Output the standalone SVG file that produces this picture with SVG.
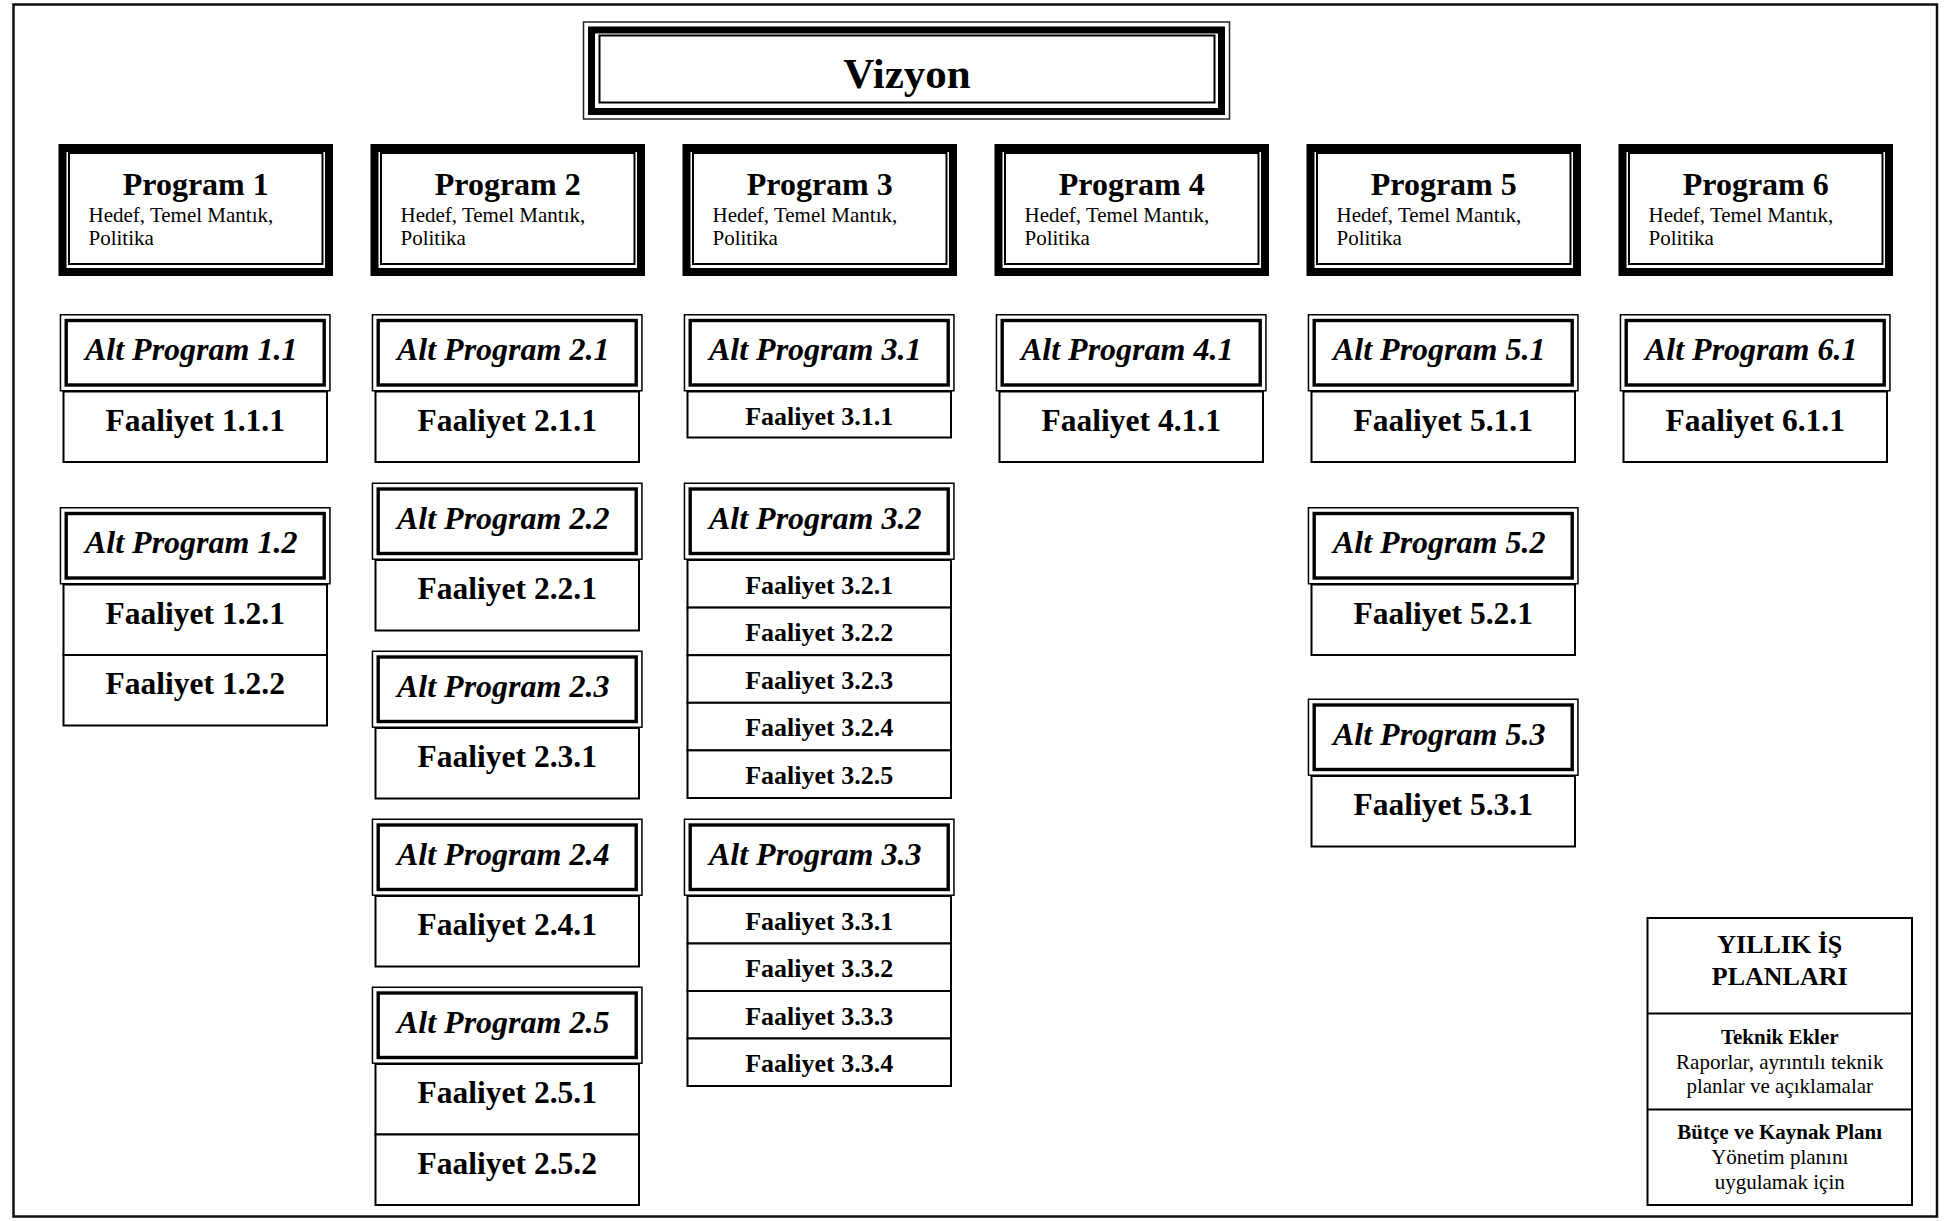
<svg xmlns="http://www.w3.org/2000/svg" width="1948" height="1221" viewBox="0 0 1948 1221">
<style>
.frame{fill:none;stroke:#111;stroke-width:2.5}
.vo{fill:#fff;stroke:#222;stroke-width:1.5}
.vb{fill:none;stroke:#000;stroke-width:7}
.vt{fill:none;stroke:#000;stroke-width:2}
.pband{fill:#fff;stroke:#000;stroke-width:8}
.pthin{fill:none;stroke:#000;stroke-width:2}
.aouter{fill:#fff;stroke:#000;stroke-width:1.5}
.athick{fill:none;stroke:#000;stroke-width:3.4}
.fbox{fill:#fff;stroke:#000;stroke-width:2}
.ybox{fill:#fff;stroke:#000;stroke-width:2}
.ln{stroke:#000;stroke-width:2}
text{font-family:"Liberation Serif","Times New Roman",serif;fill:#000}
.viz{font-weight:bold;font-size:43px;text-anchor:middle}
.title{font-weight:bold;font-size:32px;text-anchor:middle}
.sub{font-size:21px}
.alt{font-weight:bold;font-style:italic;font-size:32px;text-anchor:middle}
.fa{font-weight:bold;font-size:31.5px;text-anchor:middle}
.fs{font-weight:bold;font-size:26px;text-anchor:middle}
.yh{font-weight:bold;font-size:26px;text-anchor:middle}
.yb{font-weight:bold;font-size:21px;text-anchor:middle}
.yr{font-size:21px;text-anchor:middle}
</style>
<rect class="frame" x="13.5" y="4.5" width="1923.5" height="1212"/>
<g id="connectors"></g>

<g id="vizyon">
<rect class="vo" x="583.5" y="22" width="646" height="97"/>
<rect class="vb" x="591.5" y="30" width="630" height="81.5"/>
<rect class="vt" x="599.5" y="35.5" width="615" height="67"/>
<text class="viz" x="907" y="88">Vizyon</text>
</g>

<!-- Programs -->
<g id="program1">
<rect class="pband" x="62.5" y="148" width="266.5" height="124"/>
<rect class="pthin" x="69" y="153" width="253.5" height="111"/>
<text class="title" x="195.75" y="195">Program 1</text>
<text class="sub" x="88.5" y="221.5">Hedef, Temel Mantık,</text>
<text class="sub" x="88.5" y="245">Politika</text>
</g>
<g id="program2">
<rect class="pband" x="374.5" y="148" width="266.5" height="124"/>
<rect class="pthin" x="381" y="153" width="253.5" height="111"/>
<text class="title" x="507.75" y="195">Program 2</text>
<text class="sub" x="400.5" y="221.5">Hedef, Temel Mantık,</text>
<text class="sub" x="400.5" y="245">Politika</text>
</g>
<g id="program3">
<rect class="pband" x="686.5" y="148" width="266.5" height="124"/>
<rect class="pthin" x="693" y="153" width="253.5" height="111"/>
<text class="title" x="819.75" y="195">Program 3</text>
<text class="sub" x="712.5" y="221.5">Hedef, Temel Mantık,</text>
<text class="sub" x="712.5" y="245">Politika</text>
</g>
<g id="program4">
<rect class="pband" x="998.5" y="148" width="266.5" height="124"/>
<rect class="pthin" x="1005" y="153" width="253.5" height="111"/>
<text class="title" x="1131.75" y="195">Program 4</text>
<text class="sub" x="1024.5" y="221.5">Hedef, Temel Mantık,</text>
<text class="sub" x="1024.5" y="245">Politika</text>
</g>
<g id="program5">
<rect class="pband" x="1310.5" y="148" width="266.5" height="124"/>
<rect class="pthin" x="1317" y="153" width="253.5" height="111"/>
<text class="title" x="1443.75" y="195">Program 5</text>
<text class="sub" x="1336.5" y="221.5">Hedef, Temel Mantık,</text>
<text class="sub" x="1336.5" y="245">Politika</text>
</g>
<g id="program6">
<rect class="pband" x="1622.5" y="148" width="266.5" height="124"/>
<rect class="pthin" x="1629" y="153" width="253.5" height="111"/>
<text class="title" x="1755.75" y="195">Program 6</text>
<text class="sub" x="1648.5" y="221.5">Hedef, Temel Mantık,</text>
<text class="sub" x="1648.5" y="245">Politika</text>
</g>

<!-- Column 1 -->
<g id="alt1-1">
<rect class="fbox" x="63.5" y="391.5" width="263.5" height="70.5"/>
<rect class="aouter" x="60.45" y="314.75" width="269.5" height="76"/>
<rect class="athick" x="66.2" y="320.5" width="258" height="64.5"/>
<text class="alt" x="191.2" y="360">Alt Program 1.1</text>
<text class="fa" x="195.25" y="430.5">Faaliyet 1.1.1</text>
</g>
<g id="alt1-2">
<rect class="fbox" x="63.5" y="584.5" width="263.5" height="70.5"/>
<rect class="fbox" x="63.5" y="655" width="263.5" height="70.5"/>
<rect class="aouter" x="60.45" y="507.75" width="269.5" height="76"/>
<rect class="athick" x="66.2" y="513.5" width="258" height="64.5"/>
<text class="alt" x="191.2" y="553">Alt Program 1.2</text>
<text class="fa" x="195.25" y="623.5">Faaliyet 1.2.1</text>
<text class="fa" x="195.25" y="694">Faaliyet 1.2.2</text>
</g>

<!-- Column 2 -->
<g id="alt2-1">
<rect class="fbox" x="375.5" y="391.5" width="263.5" height="70.5"/>
<rect class="aouter" x="372.45" y="314.75" width="269.5" height="76"/>
<rect class="athick" x="378.2" y="320.5" width="258" height="64.5"/>
<text class="alt" x="503.2" y="360">Alt Program 2.1</text>
<text class="fa" x="507.25" y="430.5">Faaliyet 2.1.1</text>
</g>
<g id="alt2-2">
<rect class="fbox" x="375.5" y="560" width="263.5" height="70.5"/>
<rect class="aouter" x="372.45" y="483.25" width="269.5" height="76"/>
<rect class="athick" x="378.2" y="489" width="258" height="64.5"/>
<text class="alt" x="503.2" y="528.5">Alt Program 2.2</text>
<text class="fa" x="507.25" y="599">Faaliyet 2.2.1</text>
</g>
<g id="alt2-3">
<rect class="fbox" x="375.5" y="728" width="263.5" height="70.5"/>
<rect class="aouter" x="372.45" y="651.25" width="269.5" height="76"/>
<rect class="athick" x="378.2" y="657" width="258" height="64.5"/>
<text class="alt" x="503.2" y="696.5">Alt Program 2.3</text>
<text class="fa" x="507.25" y="767">Faaliyet 2.3.1</text>
</g>
<g id="alt2-4">
<rect class="fbox" x="375.5" y="896" width="263.5" height="70.5"/>
<rect class="aouter" x="372.45" y="819.25" width="269.5" height="76"/>
<rect class="athick" x="378.2" y="825" width="258" height="64.5"/>
<text class="alt" x="503.2" y="864.5">Alt Program 2.4</text>
<text class="fa" x="507.25" y="935">Faaliyet 2.4.1</text>
</g>
<g id="alt2-5">
<rect class="fbox" x="375.5" y="1064" width="263.5" height="70.5"/>
<rect class="fbox" x="375.5" y="1134.5" width="263.5" height="70.5"/>
<rect class="aouter" x="372.45" y="987.25" width="269.5" height="76"/>
<rect class="athick" x="378.2" y="993" width="258" height="64.5"/>
<text class="alt" x="503.2" y="1032.5">Alt Program 2.5</text>
<text class="fa" x="507.25" y="1103">Faaliyet 2.5.1</text>
<text class="fa" x="507.25" y="1173.5">Faaliyet 2.5.2</text>
</g>

<!-- Column 3 -->
<g id="alt3-1">
<rect class="fbox" x="687.5" y="391.5" width="263.5" height="46"/>
<rect class="aouter" x="684.45" y="314.75" width="269.5" height="76"/>
<rect class="athick" x="690.2" y="320.5" width="258" height="64.5"/>
<text class="alt" x="815.2" y="360">Alt Program 3.1</text>
<text class="fs" x="819.25" y="425">Faaliyet 3.1.1</text>
</g>
<g id="alt3-2">
<rect class="fbox" x="687.5" y="560" width="263.5" height="47.6"/>
<rect class="fbox" x="687.5" y="607.6" width="263.5" height="47.6"/>
<rect class="fbox" x="687.5" y="655.2" width="263.5" height="47.6"/>
<rect class="fbox" x="687.5" y="702.8" width="263.5" height="47.6"/>
<rect class="fbox" x="687.5" y="750.4" width="263.5" height="47.6"/>
<rect class="aouter" x="684.45" y="483.25" width="269.5" height="76"/>
<rect class="athick" x="690.2" y="489" width="258" height="64.5"/>
<text class="alt" x="815.2" y="528.5">Alt Program 3.2</text>
<text class="fs" x="819.25" y="593.5">Faaliyet 3.2.1</text>
<text class="fs" x="819.25" y="641.1">Faaliyet 3.2.2</text>
<text class="fs" x="819.25" y="688.7">Faaliyet 3.2.3</text>
<text class="fs" x="819.25" y="736.3">Faaliyet 3.2.4</text>
<text class="fs" x="819.25" y="783.9">Faaliyet 3.2.5</text>
</g>
<g id="alt3-3">
<rect class="fbox" x="687.5" y="896" width="263.5" height="47.5"/>
<rect class="fbox" x="687.5" y="943.5" width="263.5" height="47.5"/>
<rect class="fbox" x="687.5" y="991" width="263.5" height="47.5"/>
<rect class="fbox" x="687.5" y="1038.5" width="263.5" height="47.5"/>
<rect class="aouter" x="684.45" y="819.25" width="269.5" height="76"/>
<rect class="athick" x="690.2" y="825" width="258" height="64.5"/>
<text class="alt" x="815.2" y="864.5">Alt Program 3.3</text>
<text class="fs" x="819.25" y="929.5">Faaliyet 3.3.1</text>
<text class="fs" x="819.25" y="977">Faaliyet 3.3.2</text>
<text class="fs" x="819.25" y="1024.5">Faaliyet 3.3.3</text>
<text class="fs" x="819.25" y="1072">Faaliyet 3.3.4</text>
</g>

<!-- Column 4 -->
<g id="alt4-1">
<rect class="fbox" x="999.5" y="391.5" width="263.5" height="70.5"/>
<rect class="aouter" x="996.45" y="314.75" width="269.5" height="76"/>
<rect class="athick" x="1002.2" y="320.5" width="258" height="64.5"/>
<text class="alt" x="1127.2" y="360">Alt Program 4.1</text>
<text class="fa" x="1131.25" y="430.5">Faaliyet 4.1.1</text>
</g>

<!-- Column 5 -->
<g id="alt5-1">
<rect class="fbox" x="1311.5" y="391.5" width="263.5" height="70.5"/>
<rect class="aouter" x="1308.45" y="314.75" width="269.5" height="76"/>
<rect class="athick" x="1314.2" y="320.5" width="258" height="64.5"/>
<text class="alt" x="1439.2" y="360">Alt Program 5.1</text>
<text class="fa" x="1443.25" y="430.5">Faaliyet 5.1.1</text>
</g>
<g id="alt5-2">
<rect class="fbox" x="1311.5" y="584.5" width="263.5" height="70.5"/>
<rect class="aouter" x="1308.45" y="507.75" width="269.5" height="76"/>
<rect class="athick" x="1314.2" y="513.5" width="258" height="64.5"/>
<text class="alt" x="1439.2" y="553">Alt Program 5.2</text>
<text class="fa" x="1443.25" y="623.5">Faaliyet 5.2.1</text>
</g>
<g id="alt5-3">
<rect class="fbox" x="1311.5" y="776" width="263.5" height="70.5"/>
<rect class="aouter" x="1308.45" y="699.25" width="269.5" height="76"/>
<rect class="athick" x="1314.2" y="705" width="258" height="64.5"/>
<text class="alt" x="1439.2" y="744.5">Alt Program 5.3</text>
<text class="fa" x="1443.25" y="815">Faaliyet 5.3.1</text>
</g>

<!-- Column 6 -->
<g id="alt6-1">
<rect class="fbox" x="1623.5" y="391.5" width="263.5" height="70.5"/>
<rect class="aouter" x="1620.45" y="314.75" width="269.5" height="76"/>
<rect class="athick" x="1626.2" y="320.5" width="258" height="64.5"/>
<text class="alt" x="1751.2" y="360">Alt Program 6.1</text>
<text class="fa" x="1755.25" y="430.5">Faaliyet 6.1.1</text>
</g>

<!-- Yıllık iş planları -->
<g id="yillik">
<rect class="ybox" x="1647.5" y="918" width="264.5" height="287"/>
<line class="ln" x1="1647.5" y1="1013.5" x2="1912" y2="1013.5"/>
<line class="ln" x1="1647.5" y1="1109.5" x2="1912" y2="1109.5"/>
<text class="yh" x="1779.75" y="953">YILLIK İŞ</text>
<text class="yh" x="1779.75" y="985">PLANLARI</text>
<text class="yb" x="1779.75" y="1043.5">Teknik Ekler</text>
<text class="yr" x="1779.75" y="1068.5">Raporlar, ayrıntılı teknik</text>
<text class="yr" x="1779.75" y="1093">planlar ve açıklamalar</text>
<text class="yb" x="1779.75" y="1139">Bütçe ve Kaynak Planı</text>
<text class="yr" x="1779.75" y="1164">Yönetim planını</text>
<text class="yr" x="1779.75" y="1189">uygulamak için</text>
</g>
</svg>
